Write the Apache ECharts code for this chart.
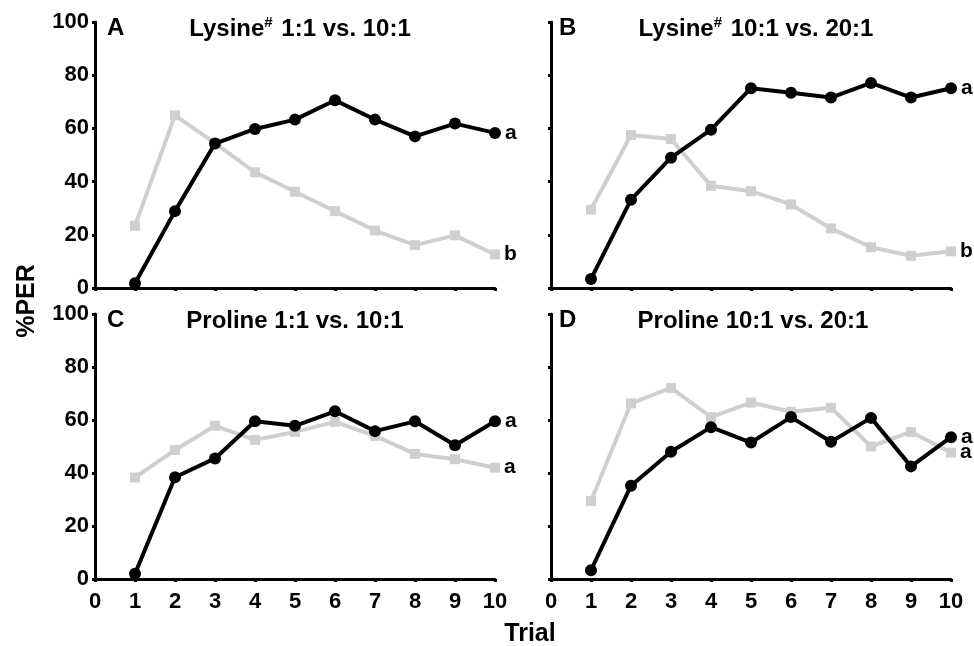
<!DOCTYPE html>
<html><head><meta charset="utf-8">
<script src="https://cdn.jsdelivr.net/npm/echarts@6/dist/echarts.min.js"></script>
<style>html,body{margin:0;padding:0;background:#fff}#c{width:974px;height:646px}</style>
</head><body><div id="c"></div>
<script>
const trials = [1,2,3,4,5,6,7,8,9,10];
const xTicks = [0,1,2,3,4,5,6,7,8,9,10];
const yTicks = [0,20,40,60,80,100];
const panelLetters = ['A','B','C','D'];
const panelTitles = [['Lysine','#',' 1:1 vs. 10:1'],['Lysine','#',' 10:1 vs. 20:1'],['Proline 1:1 vs. 10:1','',''],['Proline 10:1 vs. 20:1','','']];
const blackA = [1.8,28.9,54.3,59.8,63.3,70.6,63.3,57.0,61.8,58.3];
const grayA  = [23.4,64.9,54.5,43.5,36.2,28.9,21.6,16.1,19.8,12.6];
const blackB = [3.4,33.2,49.0,59.5,75.1,73.4,71.6,77.1,71.6,75.1];
const grayB  = [29.5,57.5,56.0,38.4,36.4,31.4,22.4,15.3,12.1,13.8];
const blackC = [2.0,38.4,45.5,59.5,57.8,63.3,55.8,59.5,50.5,59.5];
const grayC  = [38.3,48.7,57.8,52.5,55.5,59.3,54.0,47.2,45.2,42.0];
const blackD = [3.3,35.2,48.0,57.3,51.5,61.1,51.8,60.8,42.5,53.5];
const grayD  = [29.4,66.3,72.1,61.1,66.6,63.1,64.6,50.0,55.5,47.7];
const blackLetters = ['a','a','a','a'];
const grayLetters  = ['b','b','a','a'];

const FONT = 'Liberation Sans';
const blacks = [blackA,blackB,blackC,blackD];
const grays = [grayA,grayB,grayC,grayD];
const grids = [
  {left:95,top:22,width:400,height:266},
  {left:551,top:22,width:400,height:266},
  {left:95,top:314,width:400,height:265},
  {left:551,top:314,width:400,height:265}
];
const titlePos = [[300,28],[756,28],[295,320],[753,320]];
const letterPos = [[107,28],[559,28],[107,320],[559,320]];

function mkData(vals, letter){
  return vals.map((v,i)=>{
    const p = [trials[i], v];
    if(i===vals.length-1){
      return {value:p, label:{show:true, position:'right', distance:4, formatter:letter,
        fontFamily:FONT, fontWeight:'bold', fontSize:21, color:'#000'}};
    }
    return {value:p};
  });
}

const xAxis = [], yAxis = [], series = [], graphic = [];
for(let k=0;k<4;k++){
  const bottom = k>=2, left = (k%2===0);
  xAxis.push({type:'value', gridIndex:k, min:0, max:10, interval:1,
    axisLine:{show:true, lineStyle:{color:'#000', width:3}},
    axisTick:{show:true, length:3, lineStyle:{color:'#000', width:3}},
    splitLine:{show:false},
    axisLabel:{show:bottom, margin:12, fontFamily:FONT, fontWeight:'bold', fontSize:22, color:'#000',
      formatter:v=>xTicks.includes(v)?String(v):''}
  });
  yAxis.push({type:'value', gridIndex:k, min:0, max:100, interval:20,
    axisLine:{show:true, lineStyle:{color:'#000', width:3}},
    axisTick:{show:true, length:3, lineStyle:{color:'#000', width:3}},
    splitLine:{show:false},
    axisLabel:{show:left, margin:6, fontFamily:FONT, fontWeight:'bold', fontSize:22, color:'#000',
      formatter:v=>yTicks.includes(v)?String(v):''}
  });
  series.push({type:'line', xAxisIndex:k, yAxisIndex:k, data:mkData(grays[k], grayLetters[k]),
    symbol:'rect', symbolSize:10, lineStyle:{color:'#cfcfcf', width:4},
    itemStyle:{color:'#cfcfcf'}, z:2, animation:false});
  series.push({type:'line', xAxisIndex:k, yAxisIndex:k, data:mkData(blacks[k], blackLetters[k]),
    symbol:'circle', symbolSize:12, lineStyle:{color:'#000', width:4},
    itemStyle:{color:'#000'}, z:3, animation:false});
  const t = panelTitles[k];
  graphic.push({type:'text',
    style:{text:'{t|'+t[0]+'}'+(t[1]?'{s|'+t[1]+'}':'')+(t[2]?'{t|'+t[2]+'}':''),
      x:titlePos[k][0], y:titlePos[k][1], align:'center', verticalAlign:'middle',
      rich:{t:{fontFamily:FONT, fontWeight:'bold', fontSize:24, color:'#000', lineHeight:26, verticalAlign:'bottom'},
            s:{fontFamily:FONT, fontWeight:'bold', fontSize:15, color:'#000', lineHeight:26, verticalAlign:'top', padding:[0,2,12,0]}}}});
  graphic.push({type:'text', style:{text:panelLetters[k], x:letterPos[k][0], y:letterPos[k][1],
      align:'left', verticalAlign:'middle', fontFamily:FONT, fontWeight:'bold', fontSize:24, fill:'#000'}});
}
graphic.push({type:'text', rotation:Math.PI/2, x:27, y:301, style:{text:'%PER', align:'center', verticalAlign:'middle',
  fontFamily:FONT, fontWeight:'bold', fontSize:25, fill:'#000'}});
graphic.push({type:'text', x:530, y:634, style:{text:'Trial', align:'center', verticalAlign:'middle',
  fontFamily:FONT, fontWeight:'bold', fontSize:25, fill:'#000'}});

const chart = echarts.init(document.getElementById('c'), null, {renderer:'canvas'});
chart.setOption({animation:false, grid:grids, xAxis, yAxis, series, graphic});
</script></body></html>
